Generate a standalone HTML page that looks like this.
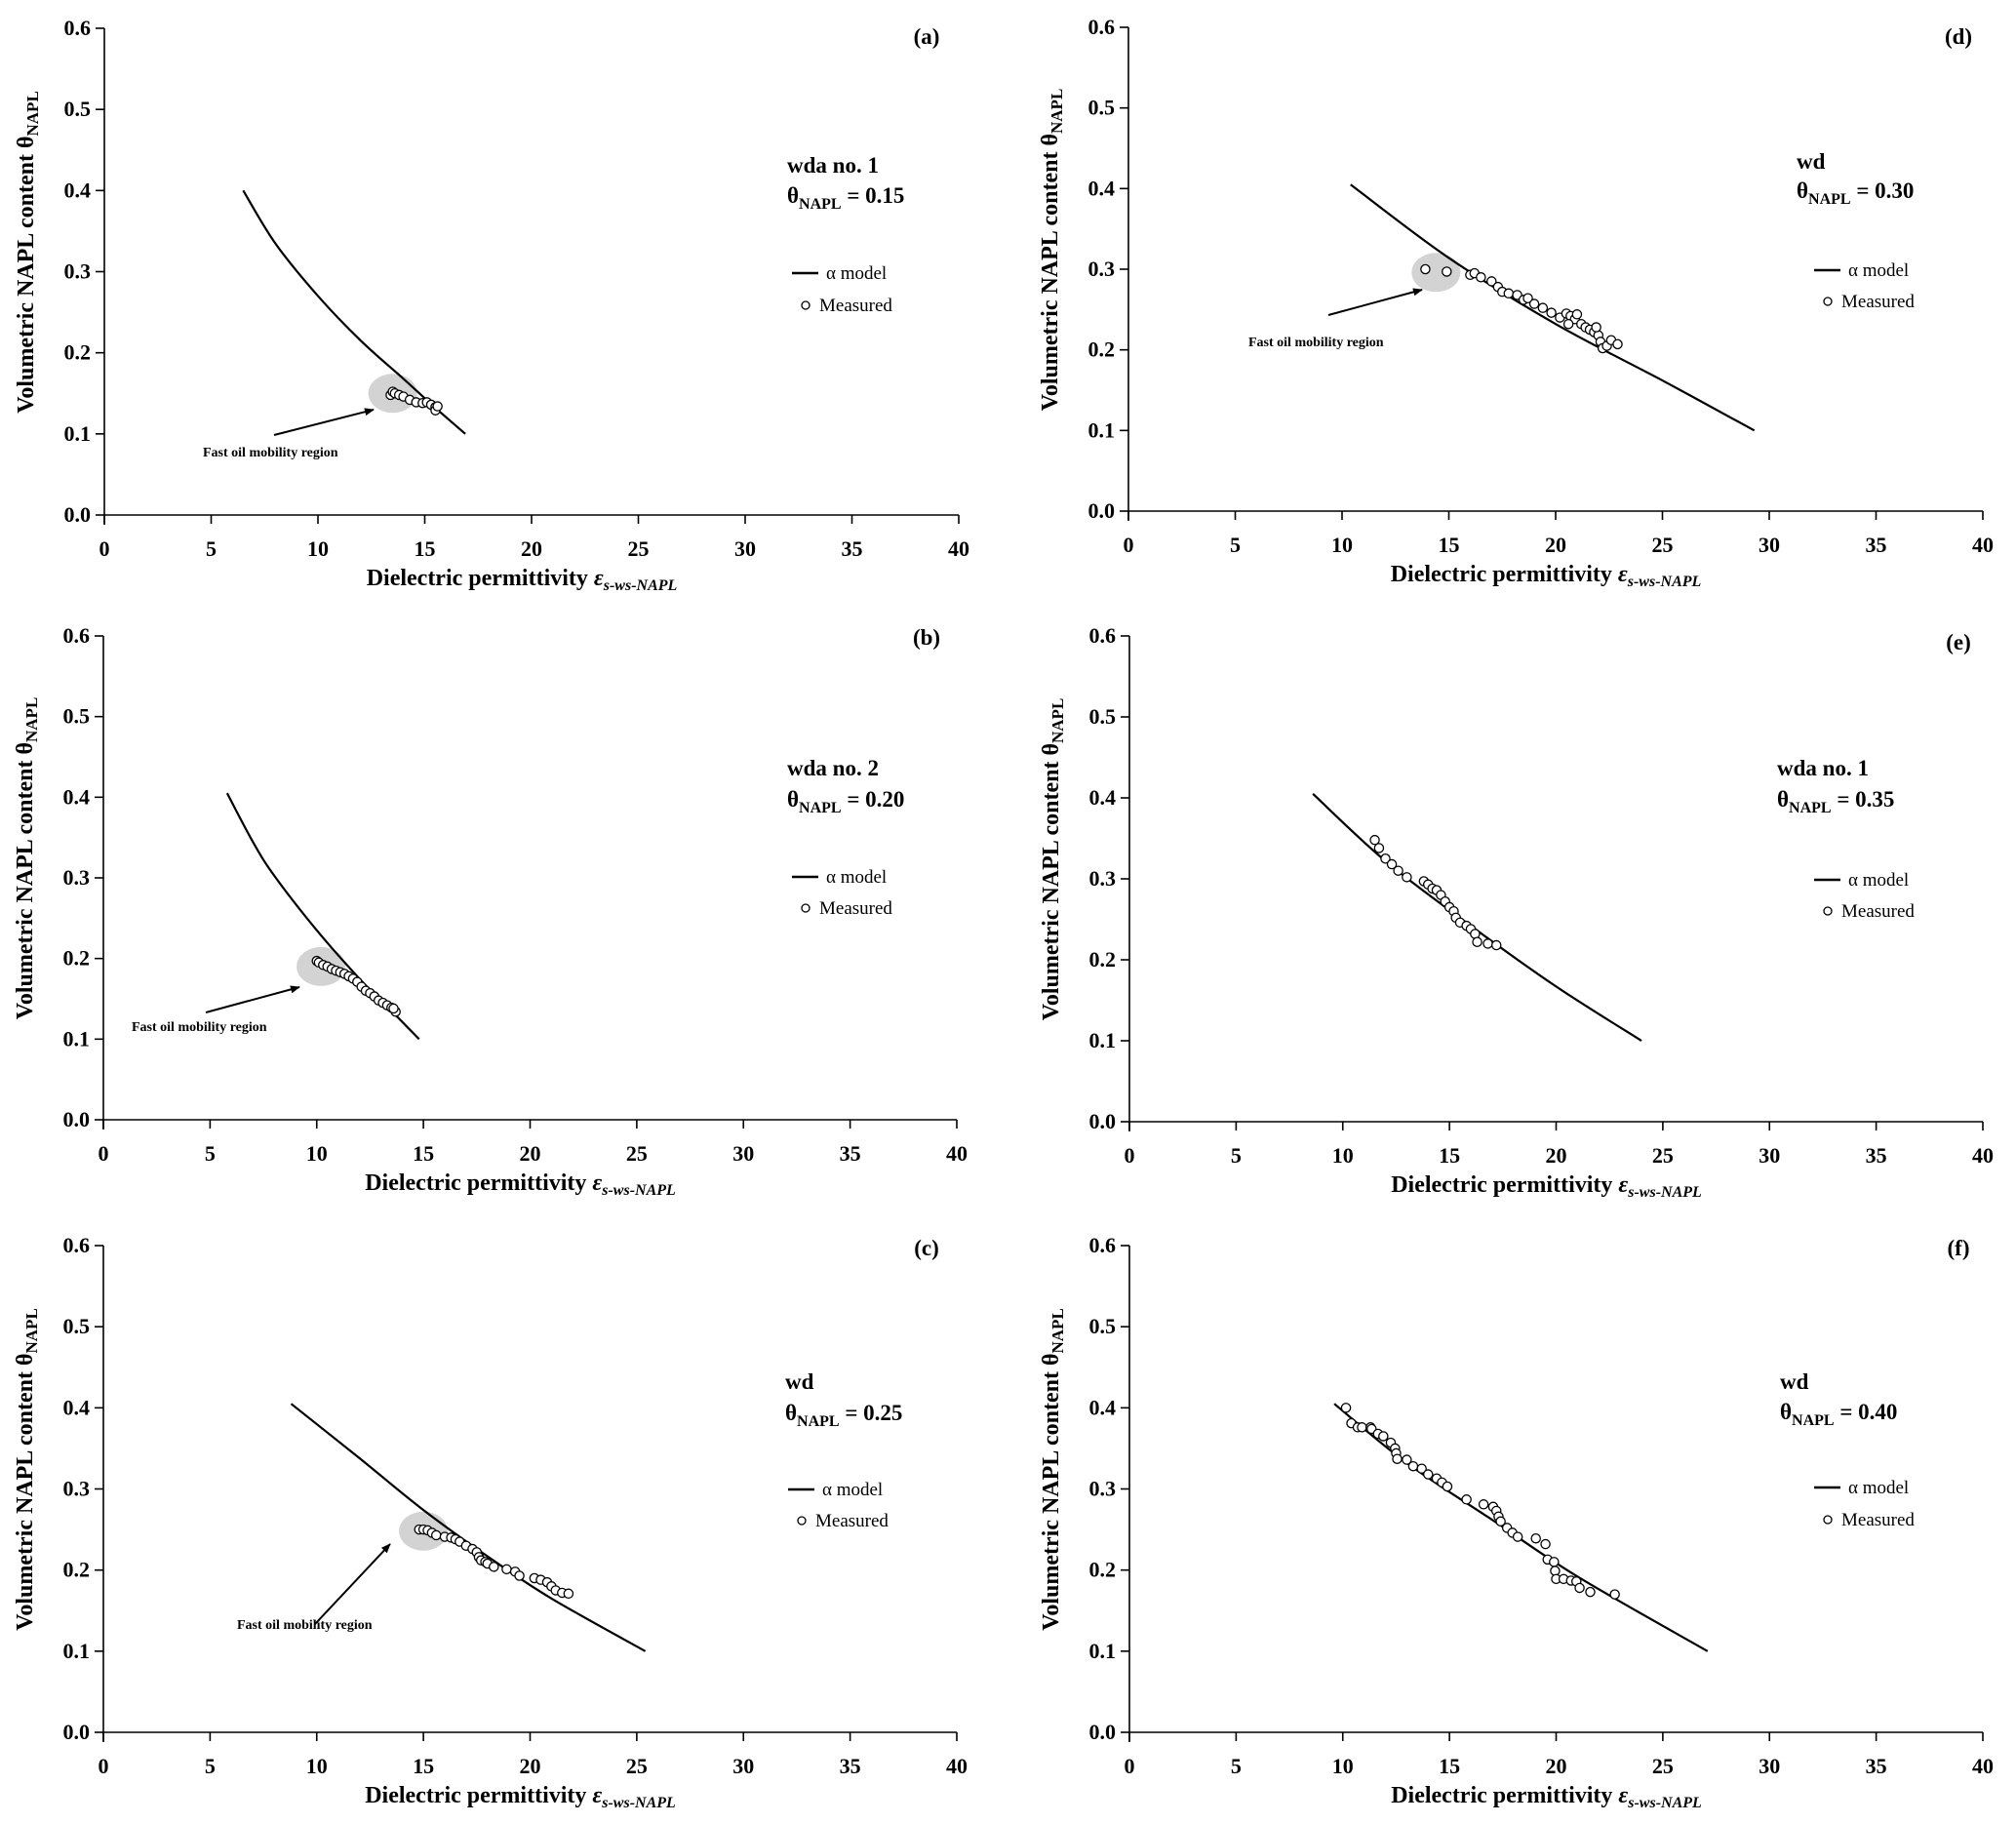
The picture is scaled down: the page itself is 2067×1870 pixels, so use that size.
<!DOCTYPE html>
<html><head><meta charset="utf-8"><style>
html,body{margin:0;padding:0;background:#fff}
svg{display:block;font-family:"Liberation Serif","DejaVu Serif",serif}
</style></head><body>
<svg id="fig" width="2067" height="1870" viewBox="0 0 2067 1870" xmlns="http://www.w3.org/2000/svg"></svg>
<script>
// ---- data ----
const xTicks=[0,5,10,15,20,25,30,35,40];
const yTicks=[0.0,0.1,0.2,0.3,0.4,0.5,0.6];
const yTickLabels=["0.0","0.1","0.2","0.3","0.4","0.5","0.6"];
const modelA=[[6.5,.40],[8,.335],[10,.27],[12,.215],[14,.168],[15.5,.132],[16.9,.10]];
const modelB=[[5.8,.405],[7,.345],[8,.303],[10,.235],[12,.175],[13.5,.135],[14.8,.10]];
const modelC=[[8.8,.405],[12,.338],[15,.274],[18,.217],[21,.165],[25.4,.10]];
const modelD=[[10.4,.405],[15,.314],[20,.232],[25,.162],[29.3,.10]];
const modelE=[[8.6,.405],[12,.322],[16,.242],[20,.167],[24,.10]];
const modelF=[[9.6,.405],[13,.332],[17,.262],[21,.192],[27.1,.10]];
const measA=[[13.4,.148],[13.5,.152],[13.6,.150],[13.8,.148],[14.0,.146],[14.3,.142],[14.6,.139],[14.9,.138],[15.1,.139],[15.3,.136],[15.5,.133],[15.5,.129],[15.6,.134]];
const measB=[[10.0,.197],[10.1,.195],[10.3,.192],[10.5,.190],[10.7,.187],[10.9,.185],[11.1,.183],[11.3,.181],[11.5,.178],[11.7,.175],[11.9,.171],[12.1,.165],[12.3,.160],[12.5,.157],[12.7,.153],[12.9,.148],[13.1,.145],[13.3,.142],[13.5,.139],[13.7,.134],[13.6,.138]];
const measC=[[14.8,.25],[15.0,.25],[15.2,.249],[15.4,.246],[15.6,.243],[16.0,.241],[16.3,.240],[16.5,.238],[16.7,.235],[17.0,.230],[17.3,.226],[17.5,.222],[17.6,.216],[17.7,.212],[17.9,.210],[18.0,.208],[18.3,.204],[18.9,.201],[19.3,.198],[19.5,.193],[20.2,.190],[20.5,.188],[20.8,.185],[21.0,.180],[21.2,.175],[21.5,.172],[21.8,.171]];
const measD=[[13.9,.30],[14.9,.297],[16.0,.293],[16.2,.295],[16.5,.290],[17.0,.285],[17.3,.278],[17.5,.272],[17.8,.270],[18.2,.268],[18.5,.262],[18.7,.264],[19.0,.257],[19.4,.252],[19.8,.246],[20.2,.240],[20.5,.245],[20.7,.242],[20.9,.238],[21.0,.244],[21.2,.232],[21.4,.228],[21.6,.225],[21.8,.222],[22.0,.218],[22.1,.21],[22.2,.202],[22.4,.205],[22.6,.212],[22.9,.207],[21.9,.228],[20.6,.232]];
const measE=[[11.5,.348],[11.7,.338],[12.0,.325],[12.3,.318],[12.6,.310],[13.0,.302],[13.8,.297],[14.0,.293],[14.2,.288],[14.4,.286],[14.6,.280],[14.8,.272],[15.0,.265],[15.2,.26],[15.3,.252],[15.5,.246],[15.8,.242],[16.0,.238],[16.2,.232],[16.3,.222],[16.8,.220],[17.2,.218]];
const measF=[[10.15,.40],[10.4,.381],[10.7,.376],[10.9,.376],[11.3,.376],[11.35,.374],[11.65,.368],[11.9,.365],[12.25,.357],[12.45,.35],[12.5,.344],[12.55,.337],[13.0,.336],[13.3,.328],[13.7,.325],[14.0,.318],[14.4,.313],[14.65,.308],[14.9,.303],[15.8,.287],[16.6,.281],[17.05,.278],[17.2,.273],[17.3,.266],[17.4,.26],[17.7,.252],[17.95,.246],[18.2,.241],[19.05,.239],[19.5,.232],[19.6,.213],[19.9,.21],[19.95,.199],[20.0,.189],[20.35,.189],[20.7,.187],[20.95,.186],[21.1,.178],[21.6,.173],[22.75,.17]];
const hlA=[13.5,.15], hlB=[10.2,.19], hlC=[15.0,.248], hlD=[14.4,.296];

// ---- layout ----
const panels=[
 {id:"a",x0:107,x1:983,yT:29,yB:528,model:modelA,meas:measA,hl:hlA,title:"wda no. 1",val:"= 0.15",tx:807,ty:[169,200],ly:[280,313],lx:812,lab:[950,36],arrow:[281,446,383,420],note:[208,468]},
 {id:"b",x0:106,x1:981,yT:652,yB:1148,model:modelB,meas:measB,hl:hlB,title:"wda no. 2",val:"= 0.20",tx:807,ty:[787,819],ly:[899,931],lx:812,lab:[950,652],arrow:[211,1038,307,1012],note:[135,1057]},
 {id:"c",x0:106,x1:981,yT:1277,yB:1776,model:modelC,meas:measC,hl:hlC,title:"wd",val:"= 0.25",tx:805,ty:[1416,1448],ly:[1527,1559],lx:808,lab:[950,1278],arrow:[323,1665,400,1583],note:[243,1670]},
 {id:"d",x0:1157,x1:2033,yT:28,yB:524,model:modelD,meas:measD,hl:hlD,title:"wd",val:"= 0.30",tx:1842,ty:[165,195],ly:[277,309],lx:1860,lab:[2008,36],arrow:[1362,323,1458,297],note:[1280,355]},
 {id:"e",x0:1158,x1:2033,yT:652,yB:1150,model:modelE,meas:measE,hl:null,title:"wda no. 1",val:"= 0.35",tx:1822,ty:[787,819],ly:[902,934],lx:1860,lab:[2008,657],arrow:null,note:null},
 {id:"f",x0:1158,x1:2033,yT:1277,yB:1776,model:modelF,meas:measF,hl:null,title:"wd",val:"= 0.40",tx:1825,ty:[1416,1447],ly:[1525,1558],lx:1860,lab:[2008,1278],arrow:null,note:null}
];
const NS="http://www.w3.org/2000/svg";
const svg=document.getElementById("fig");
function mk(tag,attrs,parent,text){const e=document.createElementNS(NS,tag);for(const k in attrs)e.setAttribute(k,attrs[k]);if(text!==undefined)e.textContent=text;(parent||svg).appendChild(e);return e;}
function smooth(pts){let d="M"+pts[0][0]+","+pts[0][1];
 for(let i=0;i<pts.length-1;i++){const p0=pts[Math.max(0,i-1)],p1=pts[i],p2=pts[i+1],p3=pts[Math.min(pts.length-1,i+2)];
  const c1=[p1[0]+(p2[0]-p0[0])/6,p1[1]+(p2[1]-p0[1])/6],c2=[p2[0]-(p3[0]-p1[0])/6,p2[1]-(p3[1]-p1[1])/6];
  d+=` C${c1[0]},${c1[1]} ${c2[0]},${c2[1]} ${p2[0]},${p2[1]}`;}
 return d;}
const defs=mk("defs",{});
const mkr=mk("marker",{id:"ah",markerWidth:"10",markerHeight:"8",refX:"9",refY:"4",orient:"auto",markerUnits:"userSpaceOnUse"},defs);
mk("path",{d:"M0,0 L10,4 L0,8 z",fill:"#000"},mkr);

panels.forEach(p=>{
 const g=mk("g",{});
 
 
 const sx=v=>p.x0+(v-0)/(40-0)*(p.x1-p.x0);
 const sy=v=>p.yB-(v-0)/(0.6-0)*(p.yB-p.yT);
 if(p.hl){const e=mk("ellipse",{cx:sx(p.hl[0]),cy:sy(p.hl[1]),rx:25,ry:20,fill:"#d3d3d3"},g);
  }
 const ax=mk("g",{stroke:"#000","stroke-width":"1.6",fill:"none"},g);
 
 mk("line",{x1:p.x0,y1:sy(0.6),x2:p.x0,y2:p.yB+10},ax);
 mk("line",{x1:p.x0,y1:p.yB,x2:p.x1,y2:p.yB},ax);
 xTicks.forEach(t=>{mk("line",{x1:sx(t),y1:p.yB,x2:sx(t),y2:p.yB+9},ax);});
 yTicks.forEach(t=>{mk("line",{x1:p.x0-9,y1:sy(t),x2:p.x0,y2:sy(t)},ax);});
 xTicks.forEach(t=>{const e=mk("text",{x:sx(t),y:p.yB+42,"text-anchor":"middle","font-size":"22","font-weight":"bold"},g,String(t));
  });
 yTicks.forEach((t,i)=>{const e=mk("text",{x:p.x0-14,y:sy(t)+7,"text-anchor":"end","font-size":"22","font-weight":"bold"},g,yTickLabels[i]);
  });
 const xt=mk("text",{x:(p.x0+p.x1)/2-10,y:p.yB+72,"text-anchor":"middle","font-size":"24","font-weight":"bold"},g);
 
 mk("tspan",{},xt,"Dielectric permittivity ");
 mk("tspan",{"font-style":"italic","font-size":"24"},xt,"ε");
 mk("tspan",{"font-style":"italic","font-size":"16",dy:"5"},xt,"s-ws-NAPL");
 const yc=(p.yT+p.yB)/2-20, yx=p.x0-73;
 const yt=mk("text",{x:yx,y:yc,"text-anchor":"middle","font-size":"24","font-weight":"bold",transform:`rotate(-90 ${yx} ${yc})`},g);
 
 mk("tspan",{},yt,"Volumetric NAPL content θ");
 mk("tspan",{"font-size":"17",dy:"5"},yt,"NAPL");
 const pl=mk("path",{d:smooth(p.model.map(d=>[sx(d[0]),sy(d[1])])),fill:"none",stroke:"#000","stroke-width":"2.2"},g);
 
 p.meas.forEach(d=>{const c=mk("circle",{cx:sx(d[0]),cy:sy(d[1]),r:4.6,fill:"#fff",stroke:"#000","stroke-width":"1.3"},g);
  });
 if(p.arrow){const a=mk("line",{x1:p.arrow[0],y1:p.arrow[1],x2:p.arrow[2],y2:p.arrow[3],stroke:"#000","stroke-width":"2","marker-end":"url(#ah)"},g);
  
  const n=mk("text",{x:p.note[0],y:p.note[1],"font-size":"14","font-weight":"bold"},g,"Fast oil mobility region");
  }
 const pl2=mk("text",{x:p.lab[0],y:p.lab[1]+9,"text-anchor":"middle","font-size":"23","font-weight":"bold"},g,"("+p.id+")");
 
 const t1=mk("text",{x:p.tx,y:p.ty[0]+8,"font-size":"23","font-weight":"bold"},g,p.title);
 
 const t2=mk("text",{x:p.tx,y:p.ty[1]+8,"font-size":"23","font-weight":"bold"},g);
 
 mk("tspan",{},t2,"θ");mk("tspan",{"font-size":"16",dy:"6"},t2,"NAPL");mk("tspan",{dy:"-6"},t2," "+p.val);
 const lg=mk("g",{},g);
 
 mk("line",{x1:p.lx,y1:p.ly[0],x2:p.lx+27,y2:p.ly[0],stroke:"#000","stroke-width":"2.5"},lg);
 mk("text",{x:p.lx+35,y:p.ly[0]+6,"font-size":"19"},lg,"α  model");
 mk("circle",{cx:p.lx+14,cy:p.ly[1],r:4,fill:"#fff",stroke:"#000","stroke-width":"1.3"},lg);
 mk("text",{x:p.lx+28,y:p.ly[1]+6,"font-size":"19"},lg,"Measured");
});
</script>
</body></html>
